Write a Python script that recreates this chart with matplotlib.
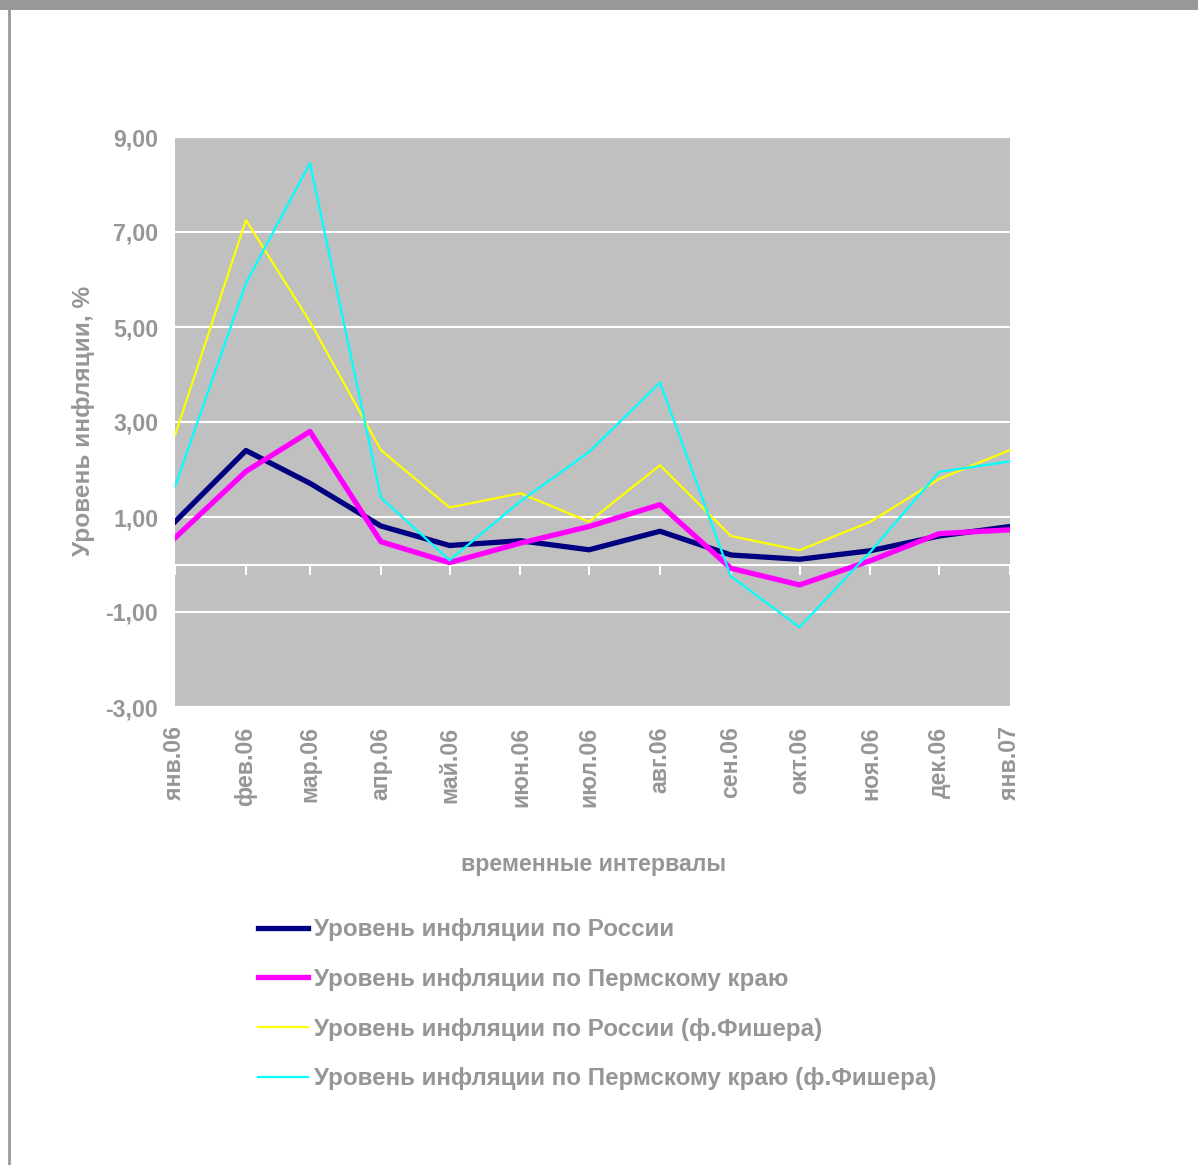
import numpy as np
import matplotlib
matplotlib.use("Agg")
import matplotlib.pyplot as plt
import matplotlib.dates as mdates
from matplotlib.patches import Rectangle
from matplotlib.lines import Line2D
from matplotlib.ticker import FuncFormatter, FixedLocator

plt.rcParams['font.family'] = ['Liberation Sans', 'DejaVu Sans']
plt.rcParams['font.weight'] = 'bold'
plt.rcParams['axes.labelweight'] = 'bold'

# месяцы (ось дат, как в Excel)
months = ['2006-01-01', '2006-02-01', '2006-03-01', '2006-04-01', '2006-05-01',
          '2006-06-01', '2006-07-01', '2006-08-01', '2006-09-01', '2006-10-01',
          '2006-11-01', '2006-12-01', '2007-01-01']
month_labels = ['янв.06', 'фев.06', 'мар.06', 'апр.06', 'май.06', 'июн.06',
                'июл.06', 'авг.06', 'сен.06', 'окт.06', 'ноя.06', 'дек.06', 'янв.07']

russia = [0.90, 2.40, 1.71, 0.81, 0.40, 0.50, 0.31, 0.70, 0.20, 0.11, 0.29, 0.60, 0.80]
perm = [0.56, 1.96, 2.80, 0.48, 0.04, 0.45, 0.80, 1.26, -0.08, -0.43, 0.08, 0.65, 0.73]
russia_fisher = [2.72, 7.25, 5.11, 2.41, 1.20, 1.50, 0.90, 2.09, 0.60, 0.30, 0.90, 1.80, 2.41]
perm_fisher = [1.64, 5.92, 8.45, 1.41, 0.09, 1.33, 2.37, 3.83, -0.25, -1.32, 0.27, 1.95, 2.17]

series_names = ['Уровень инфляции по России',
                'Уровень инфляции по Пермскому краю',
                'Уровень инфляции по России (ф.Фишера)',
                'Уровень инфляции по Пермскому краю (ф.Фишера)']

y_ticks = [-3, -1, 1, 3, 5, 7, 9]

gray_text = '#969696'
fs = 16.7
fs_leg = 17.4

dates = np.array(months, dtype='datetime64[D]').astype('O')
dnum = mdates.date2num(dates)

fig = plt.figure(figsize=(11.98, 11.65), dpi=100)
W, H = 1198, 1165

# рамка
fig.add_artist(Rectangle((0, 1 - 10 / H), 1, 10 / H, transform=fig.transFigure,
                         facecolor='#999999', edgecolor='none'))
fig.add_artist(Line2D([8.5 / W, 8.5 / W], [0, 1 - 10 / H], transform=fig.transFigure,
                      color='#999999', lw=2))

ax = fig.add_axes([175 / W, 1 - 707 / H, 835 / W, 570 / H])
ax.set_facecolor('#c0c0c0')
for s in ax.spines.values():
    s.set_visible(False)

ax.set_xlim(dnum[0], dnum[-1])
ax.set_ylim(-3, 9)
ax.yaxis.set_major_locator(FixedLocator(y_ticks))
ax.yaxis.set_major_formatter(FuncFormatter(lambda v, p: f'{v:.2f}'.replace('.', ',')))
ax.yaxis.grid(True, color='white', lw=1.5)
ax.set_axisbelow(True)

ax.xaxis.set_major_locator(FixedLocator(dnum))
ax.set_xticklabels(month_labels, rotation=90, va='top', ha='center')
ax.tick_params(axis='x', length=0, pad=14, labelsize=fs, labelcolor=gray_text)
ax.tick_params(axis='y', length=0, pad=12, labelsize=fs, labelcolor=gray_text)

# ось X проходит через ноль
ax.axhline(0, color='white', lw=1.5, zorder=1.5)
ax.plot(dnum, np.zeros(len(dnum)), ls='none', marker=3, ms=7, mew=1.5,
        color='white', zorder=1.5, clip_on=False)

ax.plot(dnum, russia, color='#000080', lw=3.8, label=series_names[0], zorder=3)
ax.plot(dnum, perm, color='#ff00ff', lw=3.8, label=series_names[1], zorder=3)
ax.plot(dnum, russia_fisher, color='#ffff00', lw=1.6, label=series_names[2], zorder=3)
ax.plot(dnum, perm_fisher, color='#00ffff', lw=1.6, label=series_names[3], zorder=3)

ax.set_ylabel('Уровень инфляции, %', fontsize=17.6, color=gray_text, fontweight='bold')
ax.yaxis.set_label_coords((95 - 175) / 835, (707 - 421) / 570)

fig.text(594 / W, 1 - 864 / H, 'временные интервалы', ha='center', va='center',
         fontsize=fs, color=gray_text)

leg = ax.legend(loc='upper left', bbox_to_anchor=(258 / W, 1 - 918 / H),
                bbox_transform=fig.transFigure, frameon=False, fontsize=fs_leg,
                labelcolor=gray_text, handlelength=2.05, handletextpad=0.25,
                labelspacing=1.11, borderpad=0, borderaxespad=0)

fig.savefig('out.png', dpi=100, facecolor='white')
